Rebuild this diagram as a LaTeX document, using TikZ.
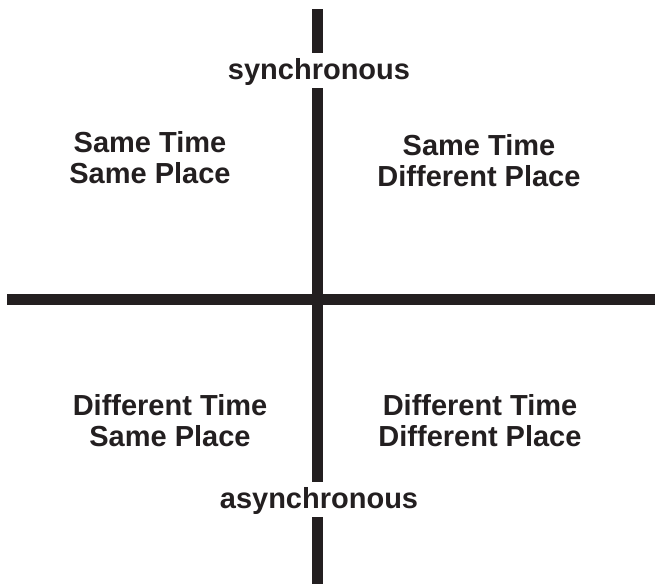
\documentclass[tikz,border=0pt]{standalone}
\usepackage{fontspec}
\setmainfont{Liberation Sans}
\usetikzlibrary{positioning}
\definecolor{ink}{HTML}{231F20}

\begin{document}
\begin{tikzpicture}[
  x=0.5pt, y=-0.5pt,
  font=\fontsize{14.5}{15.5}\selectfont\bfseries,
  axis/.style = {line width=5.5pt, draw=ink},
  pole/.style = {
    fill=white, text=ink, inner xsep=2pt, inner ysep=0pt,
    text height=13pt, text depth=4.5pt, anchor=base,
  },
  quad/.style = {text=ink, align=center, inner sep=0pt},
]
  \useasboundingbox (0,0) rectangle (655,584);

  \coordinate (top) at (317,9);
  \coordinate (bottom) at (317,584);
  \coordinate (left) at (7,299);
  \coordinate (right) at (655,299);
  \draw[axis] (top) -- (bottom);
  \draw[axis] (left) -- (right);

  % labels cut into the time axis
  \node[pole] (sync) at (319,79) {synchronous};
  \node[pole] (async) at (319,508) {asynchronous};

  \node[quad] (stsp) at (150,158) {Same Time\\Same Place};
  \node[quad] (stdp) at (479,161) {Same Time\\Different Place};
  \node[quad] (dtsp) at (170,421) {Different Time\\Same Place};
  \node[quad] (dtdp) at (480,421) {Different Time\\Different Place};
\end{tikzpicture}
\end{document}
